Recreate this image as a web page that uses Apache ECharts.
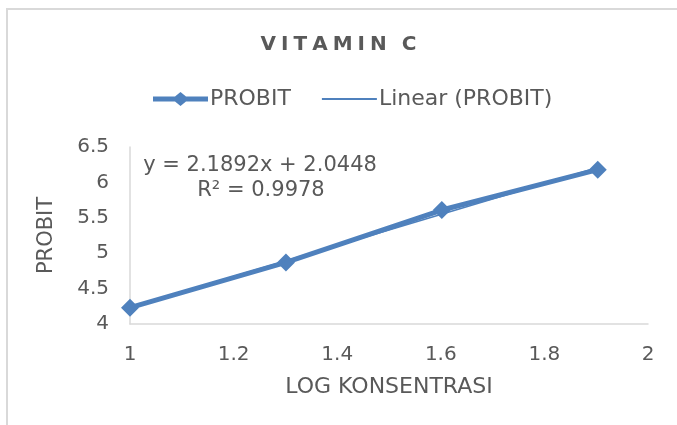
<!DOCTYPE html>
<html>
<head>
<meta charset="utf-8">
<script src="https://cdn.jsdelivr.net/npm/echarts@6/dist/echarts.min.js"></script>
<style>
    html, body { margin: 0; padding: 0; background: #fff; }
    #chartVitaminC { width: 677px; height: 425px; }
</style>
</head>
<body>
<div id="chartVitaminC"></div>
<script type="text/javascript">
    // log10 of 10, 20, 40, 80 ppm
    var logKonsentrasi = [1, 1.301, 1.602, 1.903];
    var probit = [4.23, 4.87, 5.61, 6.18];
    // trendline ends, from y = 2.1892x + 2.0448
    var trendX = [1, 1.903];
    var trendY = [4.234, 6.211];
    var xTicks = ['1', '1.2', '1.4', '1.6', '1.8', '2'];
    var yTicks = ['4', '4.5', '5', '5.5', '6', '6.5'];
    var persamaan = 'y = 2.1892x + 2.0448';
    var rKuadrat = 'R² = 0.9978';

    var blue = '#4f81bd';
    var grey = '#595959';
    var font = 'DejaVu Sans';

    var probitData = logKonsentrasi.map(function (x, i) { return [x, probit[i]]; });
    var trendData = trendX.map(function (x, i) { return [x, trendY[i]]; });

    var chartVitaminC = echarts.init(document.getElementById('chartVitaminC'), null, {renderer: 'canvas'});
    var optionVitaminC = {
        animation: false,
        backgroundColor: '#fff',
        title: {
            text: 'V\u2005I\u2005T\u2005A\u2005M\u2005I\u2005N\u2005\u2005\u2005C',
            left: 'center',
            padding: [5, 0, 5, 16],
            top: 30,
            textStyle: {fontFamily: font, fontSize: 20, fontWeight: 'bold', color: grey}
        },
        legend: {
            top: 83,
            left: 148,
            itemGap: 31,
            itemWidth: 55,
            itemHeight: 14,
            textStyle: {fontFamily: font, fontSize: 22, color: grey, padding: [0, 0, 0, -3]},
            data: [
                {name: 'PROBIT', icon: 'path://M0,4.5 L22,4.5 L27.5,0 L33,4.5 L55,4.5 L55,9.5 L33,9.5 L27.5,14 L22,9.5 L0,9.5 Z'},
                {name: 'Linear (PROBIT)', icon: 'path://M0,6 L55,6 L55,8 L0,8 Z'}
            ]
        },
        grid: {left: 130, right: 29, top: 147, bottom: 101, containLabel: false},
        xAxis: {
            type: 'value',
            min: 1, max: 2, interval: 0.2,
            name: 'LOG KONSENTRASI',
            nameLocation: 'middle',
            nameGap: 52,
            nameTextStyle: {fontFamily: font, fontSize: 22, color: grey},
            axisLine: {show: true, lineStyle: {color: '#d9d9d9', width: 1.5}},
            axisTick: {show: false},
            splitLine: {show: false},
            axisLabel: {
                fontFamily: font, fontSize: 20, color: grey, margin: 21,
                formatter: function (v) { return xTicks[Math.round((v - 1) / 0.2)]; }
            }
        },
        yAxis: {
            type: 'value',
            min: 4, max: 6.5, interval: 0.5,
            name: 'PROBIT',
            nameLocation: 'middle',
            nameGap: 73,
            nameTextStyle: {fontFamily: font, fontSize: 21, color: grey},
            axisLine: {show: true, lineStyle: {color: '#d9d9d9', width: 1.5}},
            axisTick: {show: false},
            splitLine: {show: false},
            axisLabel: {
                fontFamily: font, fontSize: 20, color: grey, margin: 21,
                formatter: function (v) { return yTicks[Math.round((v - 4) / 0.5)]; }
            }
        },
        graphic: [
            {
                type: 'rect', x: 7, y: 9, silent: true,
                shape: {x: 0, y: 0, width: 720, height: 440},
                style: {fill: 'none', stroke: '#d9d9d9', lineWidth: 2}
            },
            {
                type: 'text', x: 260, y: 166, silent: true,
                style: {text: persamaan, fontFamily: font, fontSize: 21, fill: grey, align: 'center', verticalAlign: 'middle'}
            },
            {
                type: 'text', x: 261, y: 191, silent: true,
                style: {text: rKuadrat, fontFamily: font, fontSize: 21, fill: grey, align: 'center', verticalAlign: 'middle'}
            }
        ],
        series: [
            {
                name: 'Linear (PROBIT)',
                type: 'line',
                data: trendData,
                showSymbol: false,
                symbol: 'none',
                z: 3,
                lineStyle: {color: blue, width: 1.5},
                itemStyle: {color: blue}
            },
            {
                name: 'PROBIT',
                type: 'line',
                data: probitData,
                symbol: 'diamond',
                symbolSize: 18,
                z: 2,
                lineStyle: {color: blue, width: 5},
                itemStyle: {color: blue}
            }
        ]
    };
    chartVitaminC.setOption(optionVitaminC);
</script>
</body>
</html>
